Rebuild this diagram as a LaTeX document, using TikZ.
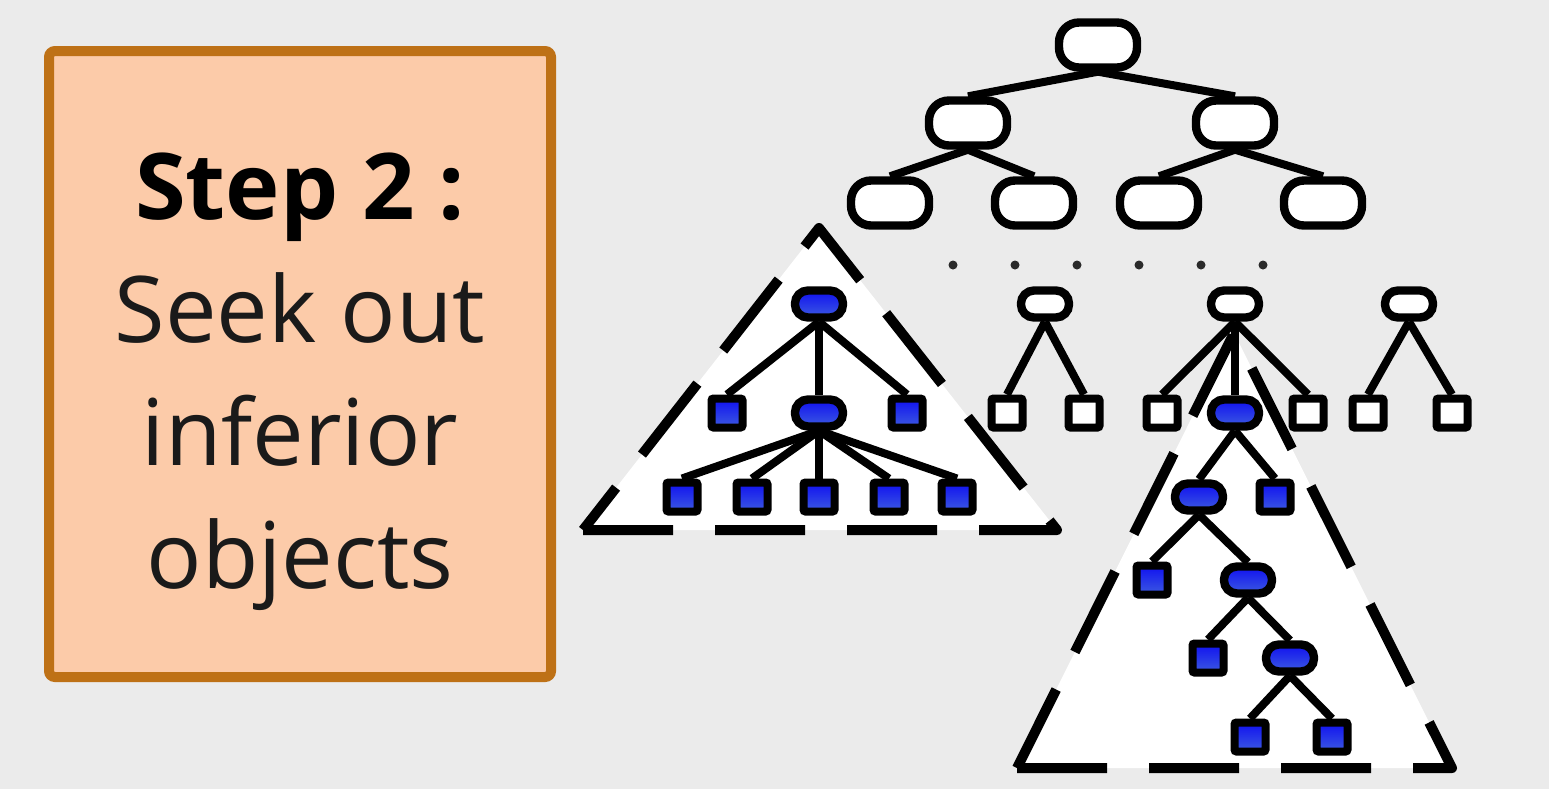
\documentclass[tikz,border=0pt]{standalone}
\usepackage{fontspec}
\setmainfont{Open Sans}
\definecolor{bggray}{HTML}{EBEBEB}
\definecolor{boxfill}{HTML}{FCCBA9}
\definecolor{boxline}{HTML}{BE7116}
\definecolor{objtop}{RGB}{16,16,240}
\definecolor{objbot}{RGB}{60,90,225}
\definecolor{dotgray}{HTML}{2A2A2A}
\definecolor{textgray}{HTML}{1A1A1A}
\tikzset{
  obj/.style={draw=black, line width=4.2pt, fill=white, rounded corners=10pt,
    minimum width=39pt, minimum height=22.5pt, inner sep=0pt},
  subobj/.style={draw=black, line width=4.2pt, fill=white, rounded corners=6.5pt,
    minimum width=24pt, minimum height=13.5pt, inner sep=0pt},
  leaf/.style={draw=black, line width=4pt, fill=white, rounded corners=1pt,
    minimum width=15.5pt, minimum height=14.5pt, inner sep=0pt},
  found/.style={top color=objtop, bottom color=objbot},
  link/.style={line width=4pt},
  subtree/.style={draw=black, fill=white, line width=5pt, line join=round,
    dash pattern=on 45pt off 21pt},
}
\begin{document}
\begin{tikzpicture}[x=0.5pt,y=-0.5pt]
  \useasboundingbox (0,0) rectangle (1549,789);
  \fill[bggray] (0,0) rectangle (1549,789);
  % step box
  \draw[line width=5pt, draw=boxline, fill=boxfill, rounded corners=3pt] (49,51) rectangle (551,677);
  \node[font=\fontsize{46pt}{61.5pt}\selectfont, text=textgray, align=center, inner sep=0pt]
    (caption) at (300,382) {\textbf{\color{black}Step 2 :}\\Seek out\\inferior\\objects};
  % dashed subtrees
  \draw[subtree] (583,530) -- (1057,530) -- (819,228) -- cycle;
  \draw[subtree] (1017,768) -- (1452,768) -- (1234,333) -- cycle;
  % dots
  \foreach \i in {0,...,5}
    \fill[dotgray] (953+62*\i,265) circle[radius=4.5];
  % upper tree
  \node[obj] (root) at (1098,45) {};
  \node[obj] (l) at (968,123) {};
  \node[obj] (r) at (1235,123) {};
  \node[obj] (ll) at (890,203) {};
  \node[obj] (lr) at (1034,203) {};
  \node[obj] (rl) at (1159,203) {};
  \node[obj] (rr) at (1323,203) {};
  % lower objects
  \node[subobj] (a) at (1045,304) {};
  \node[subobj] (b) at (1235,304) {};
  \node[subobj] (c) at (1409,304) {};
  \node[leaf] (a1) at (1007,413) {};
  \node[leaf] (a2) at (1084,413) {};
  \node[leaf] (b1) at (1162,413) {};
  \node[subobj,found] (s) at (1235,413) {};
  \node[leaf] (b3) at (1308,413) {};
  \node[leaf] (c1) at (1368,413) {};
  \node[leaf] (c2) at (1452,413) {};
  % left subtree
  \node[subobj,found] (p) at (819,304) {};
  \node[leaf,found] (p1) at (727,413) {};
  \node[subobj,found] (q) at (819,413) {};
  \node[leaf,found] (p3) at (907,413) {};
  \foreach \n/\x in {1/682,2/752,3/819,4/889,5/957}
    \node[leaf,found] (q\n) at (\x,497) {};
  % right subtree
  \node[subobj,found] (s1) at (1199,497) {};
  \node[leaf,found] (s2) at (1275,497) {};
  \node[leaf,found] (t1) at (1152,580) {};
  \node[subobj,found] (t) at (1248,580) {};
  \node[leaf,found] (u1) at (1208,658) {};
  \node[subobj,found] (u) at (1290,658) {};
  \node[leaf,found] (v1) at (1250,737) {};
  \node[leaf,found] (v2) at (1332,737) {};
  % links
  \foreach \u/\v in {root/l,root/r,l/ll,l/lr,r/rl,r/rr,
      a/a1,a/a2,b/b1,b/s,b/b3,c/c1,c/c2,
      p/p1,p/q,p/p3,q/q1,q/q2,q/q3,q/q4,q/q5,
      s/s1,s/s2,s1/t1,s1/t,t/u1,t/u,u/v1,u/v2}
    \draw[link] (\u.south) -- (\v.north);
\end{tikzpicture}
\end{document}
